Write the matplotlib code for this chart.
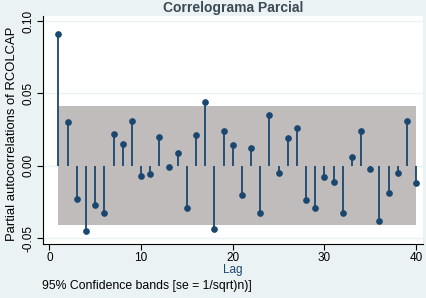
import numpy as np
import matplotlib.pyplot as plt

plt.rcParams['font.family'] = ['Liberation Sans', 'DejaVu Sans']

# partial autocorrelations of RCOLCAP, lags 1..40
lags = np.arange(1, 41)
pac = [0.091, 0.030, -0.023, -0.045, -0.027, -0.033, 0.022, 0.015, 0.031, -0.007,
       -0.006, 0.020, -0.001, 0.009, -0.029, 0.021, 0.044, -0.044, 0.024, 0.014,
       -0.020, 0.012, -0.033, 0.035, -0.005, 0.019, 0.026, -0.024, -0.029, -0.008,
       -0.011, -0.033, 0.006, 0.024, -0.002, -0.038, -0.019, -0.005, 0.031, -0.012]
band = 0.041  # 95% confidence band, se = 1/sqrt(n)

bg = '#eaf2f3'
navy = '#1a476f'

fig = plt.figure(figsize=(4.27, 2.98), dpi=100, facecolor=bg)
ax = fig.add_axes([43 / 427, (298 - 244) / 298, 380 / 427, 228 / 298])
ax.set_facecolor('white')

# grid lines
for yv in [-0.05, 0.0, 0.05, 0.10]:
    ax.axhline(yv, color=bg, lw=1.0, zorder=0)

# confidence band
ax.fill_between(lags, -band, band, color='#c0bcbb', lw=0, zorder=1)

# stems and markers
ax.vlines(lags, 0, pac, color=navy, lw=1.3, zorder=2)
ax.plot(lags, pac, 'o', color=navy, ms=3.8, zorder=3)

ax.set_xlim(-0.69, 40.75)
ax.set_ylim(-0.0541, 0.1035)
ax.set_xticks([0, 10, 20, 30, 40])
ax.set_yticks([-0.05, 0.0, 0.05, 0.10])
ax.set_yticklabels(['-0.05', '0.00', '0.05', '0.10'], rotation=90, va='center')

for s in ['top', 'right']:
    ax.spines[s].set_visible(False)
for s in ['left', 'bottom']:
    ax.spines[s].set_color('black')
    ax.spines[s].set_linewidth(0.8)
ax.tick_params(axis='both', labelsize=8.5, length=4, width=0.8, colors='black', pad=2)

fig.text(12 / 427, 1 - 134 / 298, 'Partial autocorrelations of RCOLCAP',
         rotation=90, ha='center', va='center', fontsize=9.4, color='black')
ax.set_xlabel('Lag', fontsize=8.5, color=navy, labelpad=0)
fig.text(233 / 427, 0.972, 'Correlograma Parcial', ha='center', va='center',
         fontsize=10, fontweight='bold', color='#3c4a56')
fig.text(42 / 427, 1 - 286 / 298, '95% Confidence bands [se = 1/sqrt)n)]',
         ha='left', va='center', fontsize=8.8, color='black')

fig.savefig('out.png', dpi=100, facecolor=bg)
